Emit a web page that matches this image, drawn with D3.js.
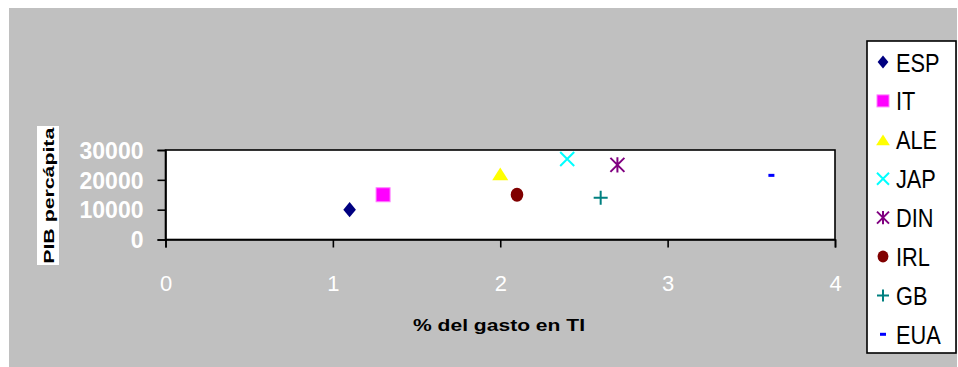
<!DOCTYPE html>
<html><head><meta charset="utf-8">
<script src="https://cdn.jsdelivr.net/npm/d3@7"></script>
<style>html,body{margin:0;padding:0;background:#fff;}svg{display:block;}</style>
</head><body>
<svg id="c" width="958" height="367"></svg>
<script>
const countries = ["ESP","IT","ALE","JAP","DIN","IRL","GB","EUA"];
const gastoTI = [1.1, 1.3, 2.0, 2.4, 2.7, 2.1, 2.6, 3.62];
const pibPerCapita = [10000, 15000, 22000, 27000, 25000, 15000, 14000, 21500];
const markerTypes = ["diamond","square","triangle","x","asterisk","ellipse","plus","dash"];
const colors = ["#000080","#FF00FF","#FFFF00","#00FFFF","#800080","#800000","#008080","#0000FF"];
const xTicks = [0,1,2,3,4];
const yTicks = [0,10000,20000,30000];
const xTitle = "% del gasto en TI";
const yTitle = "PIB percápita";

const svg = d3.select("#c");
const font = "'Liberation Sans', Arial, sans-serif";

svg.append("rect").attr("x",9).attr("y",8).attr("width",948).attr("height",359).attr("fill","#c0c0c0");

const x = d3.scaleLinear().domain([0,4]).range([165.5,835]);
const y = d3.scaleLinear().domain([0,30000]).range([239.5,150]);

// plot area
svg.append("rect").attr("x",x(0)).attr("y",y(30000)).attr("width",x(4)-x(0)).attr("height",y(0)-y(30000))
  .attr("fill","#fff").attr("stroke","#000").attr("stroke-width",1.6);

// axes
const xAxis = d3.axisBottom(x).tickValues(xTicks).tickSize(8).tickPadding(28).tickFormat(d3.format("d"));
const gx = svg.append("g").attr("transform",`translate(0,${y(0)})`).call(xAxis);
gx.select(".domain").attr("stroke","#000").attr("stroke-width",1.6);
gx.selectAll(".tick line").attr("stroke","#000").attr("stroke-width",1.6);
gx.selectAll(".tick text").attr("fill","#fff").attr("font-family",font).attr("font-size",22).attr("font-weight","normal");

const yAxis = d3.axisLeft(y).tickValues(yTicks).tickSize(8).tickPadding(14).tickFormat(d3.format("d"));
const gy = svg.append("g").attr("transform",`translate(${x(0)},0)`).call(yAxis);
gy.select(".domain").attr("stroke","#000").attr("stroke-width",1.6);
gy.selectAll(".tick line").attr("stroke","#000").attr("stroke-width",1.6);
gy.selectAll(".tick text").attr("fill","#fff").attr("font-family",font).attr("font-size",23).attr("font-weight","bold").attr("dy","0.36em");

// axis titles
svg.append("text").attr("x",499).attr("y",331).attr("text-anchor","middle")
  .attr("font-family",font).attr("font-size",17).attr("font-weight","bold")
  .attr("textLength",172).attr("lengthAdjust","spacingAndGlyphs").text(xTitle);

const yc = (y(0)+y(30000))/2;
svg.append("rect").attr("x",37).attr("y",126).attr("width",22).attr("height",139).attr("fill","#fff");
svg.append("text").attr("transform",`translate(54,${yc+1}) rotate(-90)`).attr("text-anchor","middle")
  .attr("font-family",font).attr("font-size",15).attr("font-weight","bold")
  .attr("textLength",136).attr("lengthAdjust","spacingAndGlyphs").text(yTitle);

function marker(g, type, color, s) {
  const h = s/2;
  if (type === "diamond") {
    g.append("path").attr("d",`M0,${-h*1.1}L${h*0.9},0L0,${h*1.1}L${-h*0.9},0Z`).attr("fill",color);
  } else if (type === "square") {
    g.append("rect").attr("x",-h).attr("y",-h).attr("width",s).attr("height",s).attr("fill",color).attr("stroke","#ff80ff").attr("stroke-width",1);
  } else if (type === "triangle") {
    g.append("path").attr("d",`M0,${-h*0.9}L${h*1.15},${h*0.9}L${-h*1.15},${h*0.9}Z`).attr("fill",color);
  } else if (type === "x") {
    g.append("path").attr("d",`M${-h},${-h}L${h},${h}M${h},${-h}L${-h},${h}`).attr("stroke",color).attr("stroke-width",2);
  } else if (type === "asterisk") {
    g.append("path").attr("d",`M${-h},${-h}L${h},${h}M${h},${-h}L${-h},${h}M0,${-h*1.1}L0,${h*1.1}`).attr("stroke",color).attr("stroke-width",2);
  } else if (type === "ellipse") {
    g.append("ellipse").attr("rx",h*0.9).attr("ry",h).attr("fill",color);
  } else if (type === "plus") {
    g.append("path").attr("d",`M${-h},0L${h},0M0,${-h}L0,${h}`).attr("stroke",color).attr("stroke-width",2);
  } else if (type === "dash") {
    g.append("rect").attr("x",-3).attr("y",-1.5).attr("width",6).attr("height",3).attr("fill",color);
  }
}

const pts = svg.append("g");
countries.forEach((c,i) => {
  const g = pts.append("g").attr("transform",`translate(${x(gastoTI[i])},${y(pibPerCapita[i])})`);
  marker(g, markerTypes[i], colors[i], 14);
});

// legend
svg.append("rect").attr("x",867).attr("y",41).attr("width",89).attr("height",312).attr("fill","#fff").attr("stroke","#000").attr("stroke-width",1.6);
countries.forEach((c,i) => {
  const cy = 62 + i*38.9;
  const g = svg.append("g").attr("transform",`translate(883,${cy})`);
  marker(g, markerTypes[i], colors[i], 12);
  svg.append("text").attr("transform",`translate(896,${cy+9.5}) scale(0.87,1)`)
    .attr("font-family",font).attr("font-size",25).attr("fill","#000").text(c);
});
</script>
</body></html>
